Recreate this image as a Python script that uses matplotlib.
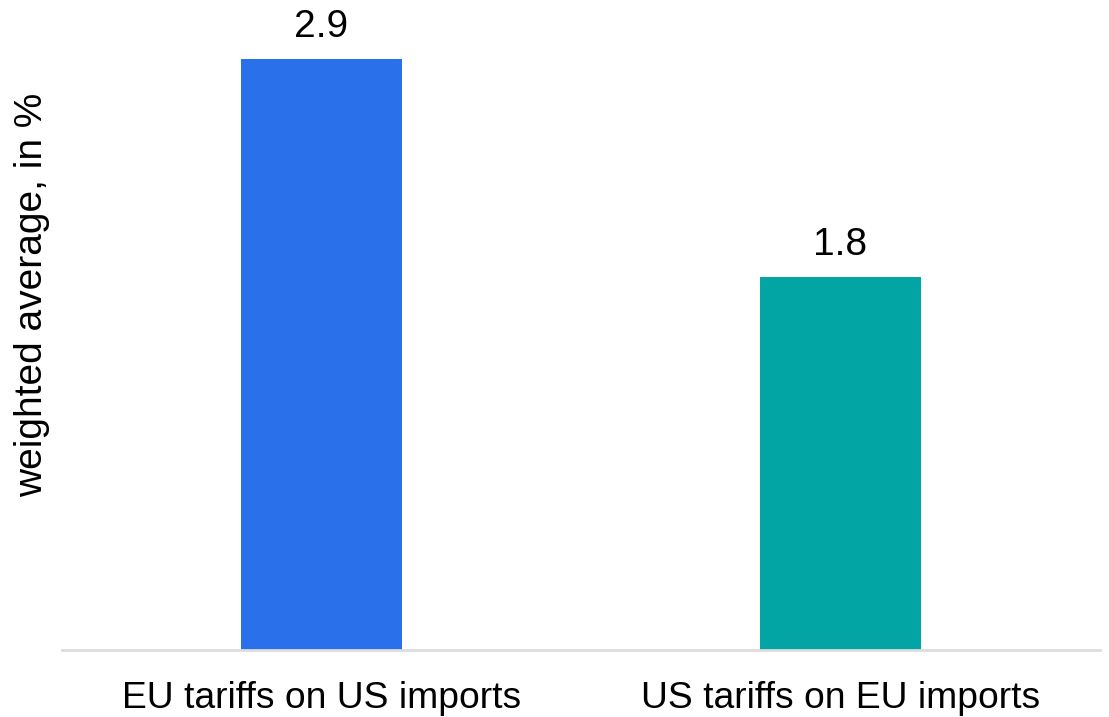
import matplotlib
matplotlib.use("Agg")
import matplotlib.pyplot as plt

categories = ["EU tariffs on US imports", "US tariffs on EU imports"]
values = [2.87, 1.81]
colors = ["#2a70ea", "#02a4a4"]
ylabel = "weighted average, in %"

plt.rcParams['font.family'] = ['Liberation Sans', 'DejaVu Sans']

W, H = 1109, 717
fig = plt.figure(figsize=(W/100, H/100), dpi=100)
left, right, bottom, top = 62, 1100, 650, 15
ax = fig.add_axes([left/W, 1 - bottom/H, (right-left)/W, (bottom-top)/H])

x = list(range(len(categories)))
bars = ax.bar(x, values, width=0.31, color=colors, zorder=2)
ax.set_xlim(-0.5, len(categories) - 0.5)
ax.set_ylim(0, values[0] * (bottom - top) / (bottom - 59))

for xi, v in zip(x, values):
    ax.annotate(f"{v:.1f}", (xi, v), xytext=(0, 10), textcoords="offset points",
                ha="center", va="bottom", fontsize=28, color="black")

ax.set_xticks(x)
ax.set_xticklabels(categories, fontsize=26.8)
ax.tick_params(axis='x', length=0, pad=22)
ax.set_yticks([])
for s in ["top", "right", "left"]:
    ax.spines[s].set_visible(False)
ax.spines["bottom"].set_color("#dddddd")
ax.spines["bottom"].set_linewidth(2)
ax.set_ylabel(ylabel, fontsize=28)
ax.yaxis.set_label_coords(-(left - 50) / (right - left), (bottom - 295) / (bottom - top))

fig.savefig("out.png", dpi=100)
